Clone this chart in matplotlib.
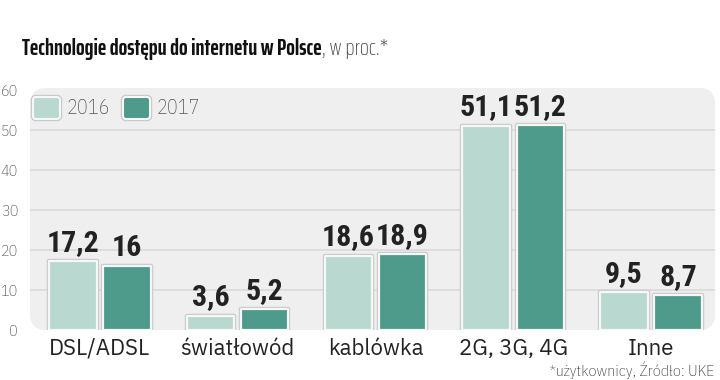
import matplotlib.pyplot as plt
import matplotlib.patheffects as pe
from matplotlib.patches import FancyBboxPatch
import numpy as np

categories = ["DSL/ADSL", "światłowód", "kablówka", "2G, 3G, 4G", "Inne"]
values_2016 = [17.2, 3.6, 18.6, 51.1, 9.5]
values_2017 = [16, 5.2, 18.9, 51.2, 8.7]
labels_2016 = ["17,2", "3,6", "18,6", "51,1", "9,5"]
labels_2017 = ["16", "5,2", "18,9", "51,2", "8,7"]
series_names = ["2016", "2017"]

C16 = "#b9d9d0"
C17 = "#4e9a8b"
TITLE = ["Saira ExtraCondensed", "DejaVu Sans"]
BOLD = ["Roboto Condensed", "DejaVu Sans"]
REG = ["IBM Plex Sans", "DejaVu Sans"]
COND = ["IBM Plex Sans Condensed", "DejaVu Sans"]


def main():
    fig = plt.figure(figsize=(7.2, 3.8), dpi=100)
    W, H = 720, 380
    # axes: x 30..715 px, y 88..330 px
    ax = fig.add_axes([30 / W, 1 - 330 / H, 685 / W, 242 / H])
    ax.set_xlim(-0.507, 4.464)
    ax.set_ylim(0, 60.5)
    ax.set_facecolor("none")
    for s in ax.spines.values():
        s.set_visible(False)

    # rounded grey panel
    panel = FancyBboxPatch((0, 0), 1, 1, transform=ax.transAxes,
                           boxstyle="round,pad=0,rounding_size=%f" % (16 / 685),
                           mutation_aspect=685 / 242,
                           facecolor="#efefef", edgecolor="none", zorder=0,
                           clip_on=False)
    ax.add_patch(panel)
    for yv in [10, 20, 30, 40, 50]:
        ax.axhline(yv, color="#dcdcdc", lw=1.3, zorder=1)

    ax.set_yticks([0, 10, 20, 30, 40, 50, 60])
    ax.tick_params(axis="y", length=0, pad=8.5, labelsize=11.5, labelcolor="#444444")
    for t in ax.get_yticklabels():
        t.set_family(COND)
        t.set_fontweight("light")
    ax.set_xticks([])

    x = np.arange(len(categories))
    off = 0.196
    w = 0.345
    stroke = [pe.withStroke(linewidth=3.2, foreground="#c8c8c8")]
    b1 = ax.bar(x - off, values_2016, w, color=C16, edgecolor="#f7f7f7",
                linewidth=1.6, zorder=3, path_effects=stroke, joinstyle="round")
    b2 = ax.bar(x + off, values_2017, w, color=C17, edgecolor="#f7f7f7",
                linewidth=1.6, zorder=3, path_effects=stroke, joinstyle="round")

    ax.bar_label(b1, labels=labels_2016, padding=3, fontsize=21.5,
                 fontweight="bold", family=BOLD, color="#222222")
    ax.bar_label(b2, labels=labels_2017, padding=3, fontsize=21.5,
                 fontweight="bold", family=BOLD, color="#222222")

    for xi, name in zip(x, categories):
        ax.text(xi, -2.0, name, ha="center", va="top", fontsize=16,
                family=REG, color="#222222")

    # legend
    for i, (name, col) in enumerate(zip(series_names, [C16, C17])):
        x0 = 33 + i * 90
        sw = FancyBboxPatch((x0 / W, 1 - 119 / H), 27 / W, 22 / H,
                            transform=fig.transFigure,
                            boxstyle="round,pad=0,rounding_size=%f" % (3 / W),
                            mutation_aspect=W / H,
                            facecolor=col, edgecolor="#f7f7f7", lw=1.5,
                            path_effects=stroke)
        fig.patches.append(sw)
        fig.text((x0 + 34) / W, 1 - 108 / H, name, ha="left", va="center",
                 fontsize=14.5, family=COND, fontweight="light", color="#555555")

    # title
    t1 = fig.text(22 / W, 1 - 55 / H, "Technologie dostępu do internetu w Polsce",
                  ha="left", va="baseline", fontsize=16.5, fontweight="bold",
                  family=TITLE, color="#111111")
    fig.canvas.draw()
    bb = t1.get_window_extent()
    fig.text(bb.x1 / W, 1 - 55 / H, ", w proc.*", ha="left", va="baseline",
             fontsize=17, family=TITLE, fontweight="light", color="#444444")

    fig.text(714 / W, 1 - 376 / H, "*użytkownicy, Źródło: UKE", ha="right",
             va="baseline", fontsize=11.5, family=COND, fontweight="light",
             color="#333333")

    fig.savefig("out.png", dpi=100)


if __name__ == '__main__':
    main()
